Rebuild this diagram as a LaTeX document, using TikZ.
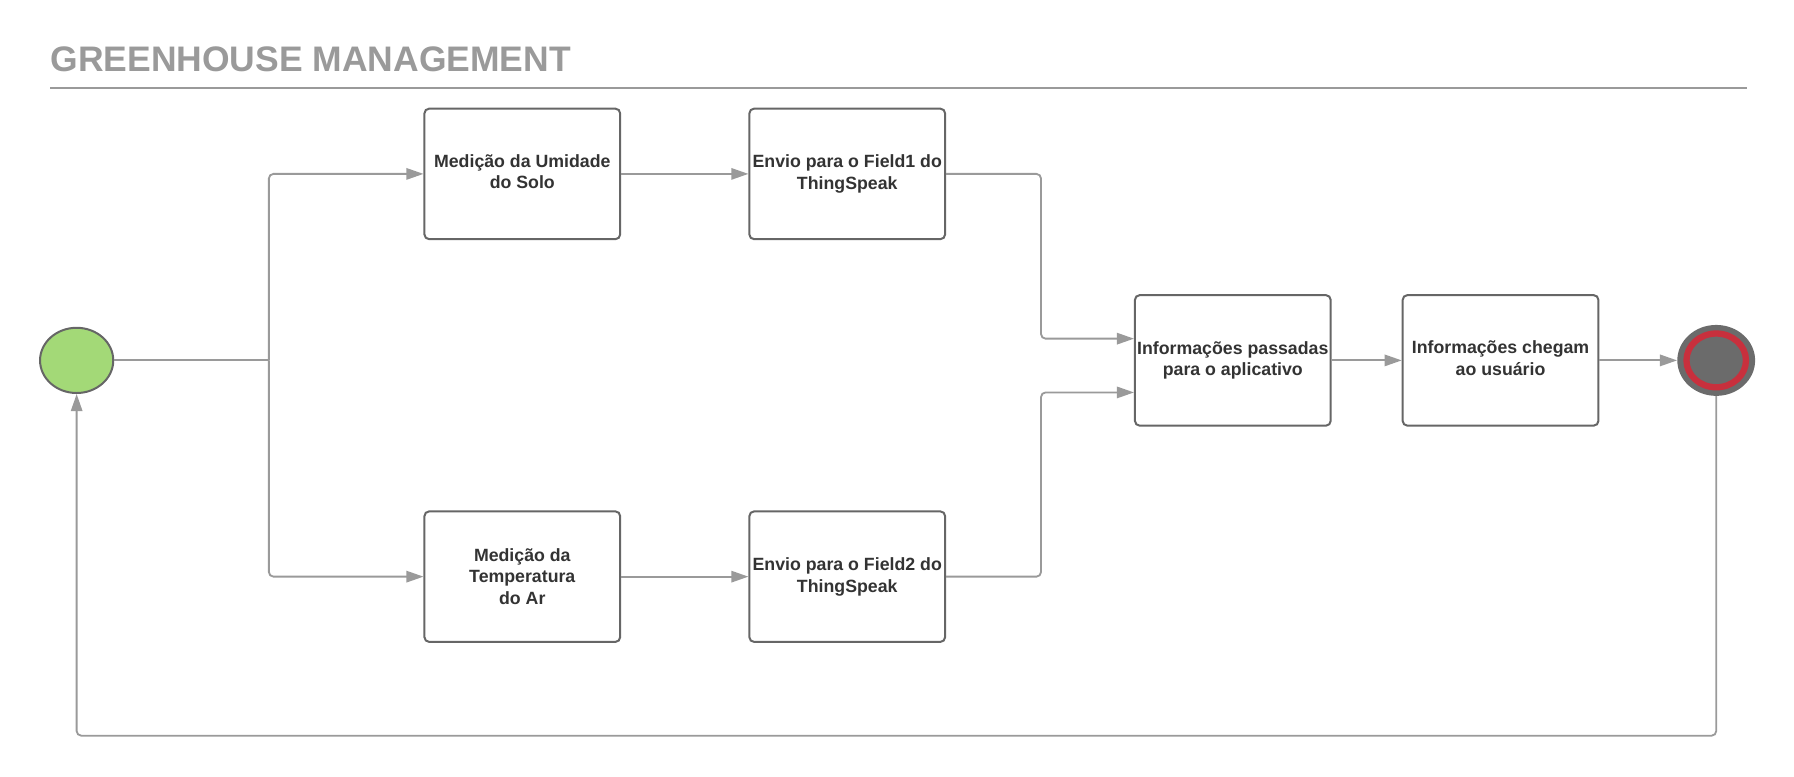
\documentclass[tikz,border=0pt]{standalone}
\usepackage{fontspec}
\setmainfont{Liberation Sans}
\usetikzlibrary{arrows.meta,shapes.geometric,calc}
\definecolor{conncol}{HTML}{9A9A9A}
\definecolor{boxcol}{HTML}{666666}
\definecolor{txtcol}{HTML}{333333}
\definecolor{titlecol}{HTML}{9A9A9A}
\definecolor{startfill}{HTML}{A3D977}
\definecolor{endfill}{HTML}{6B6B6B}
\definecolor{endring}{HTML}{C8303D}
\tikzset{
  stepbox/.style={draw=boxcol, line width=1.75pt, rounded corners=4pt, fill=white,
    minimum width=171pt, minimum height=114pt, inner sep=0pt},
  steptext/.style={inner sep=0pt, align=center,
    text=txtcol, font=\fontsize{15.5}{19}\selectfont\bfseries},
  conn/.style={draw=conncol, line width=1.6pt, rounded corners=4pt,
    -{Triangle[length=15pt,width=10pt]}},
  plainconn/.style={draw=conncol, line width=1.6pt, rounded corners=4pt},
}
\begin{document}
\begin{tikzpicture}[x=1pt,y=-1pt]
\useasboundingbox (0,0) rectangle (1568,679);
% title
\node[anchor=west, inner sep=0pt, text=titlecol, font=\fontsize{31}{36}\selectfont\bfseries] (title) at (44,52) {GREENHOUSE MANAGEMENT};
\coordinate (ll) at (44,77);
\coordinate (lr) at (1527,77);
\draw[conncol, line width=1.75pt] (ll) -- (lr);
% start / end
\node[ellipse, draw=boxcol, line width=1.75pt, fill=startfill, minimum width=64pt, minimum height=57pt, inner sep=0pt] (s) at (67,315) {};
\node[ellipse, fill=endfill, minimum width=68pt, minimum height=62pt, inner sep=0pt] (e) at (1500,315) {};
\draw[endring, line width=5.5pt] (e.center) ellipse [x radius=26pt, y radius=23.5pt];
% boxes
\node[stepbox] (b1) at (456.5,152) {};
\node[stepbox] (b2) at (740.5,152) {};
\node[stepbox] (b3) at (456.5,504) {};
\node[stepbox] (b4) at (740.5,504) {};
\node[stepbox] (b5) at (1077.5,315) {};
\node[stepbox] (b6) at (1311.5,315) {};
\node[steptext] (t1) at ([yshift=2pt]b1.center) {Medição da Umidade\\do Solo};
\node[steptext] (t2) at (b2.center) {Envio para o Field1 do\\ThingSpeak};
\node[steptext] (t3) at (b3.center) {Medição da\\Temperatura\\do Ar};
\node[steptext] (t4) at (b4.center) {Envio para o Field2 do\\ThingSpeak};
\node[steptext] (t5) at (b5.center) {Informações passadas\\para o aplicativo};
\node[steptext] (t6) at ([yshift=2pt]b6.center) {Informações chegam\\ao usuário};
% connectors
\coordinate (split) at (235,315);
\draw[plainconn] (s.east) -- (split);
\draw[conn] (split) |- (b1.west);
\draw[conn] (split) |- (b3.west);
\draw[conn] (b1.east) -- (b2.west);
\draw[conn] (b3.east) -- (b4.west);
\draw[conn] (b2.east) -- ++(83,0) |- ([yshift=19pt]b5.west);
\draw[conn] (b4.east) -- ++(83,0) |- ([yshift=-28pt]b5.west);
\draw[conn] (b5.east) -- (b6.west);
\draw[conn] (b6.east) -- (e.west);
\coordinate (loopr) at (1500,643);
\coordinate (loopl) at (67,643);
\draw[conn] (e.south) -- (loopr) -- (loopl) -- (s.south);
\end{tikzpicture}
\end{document}
